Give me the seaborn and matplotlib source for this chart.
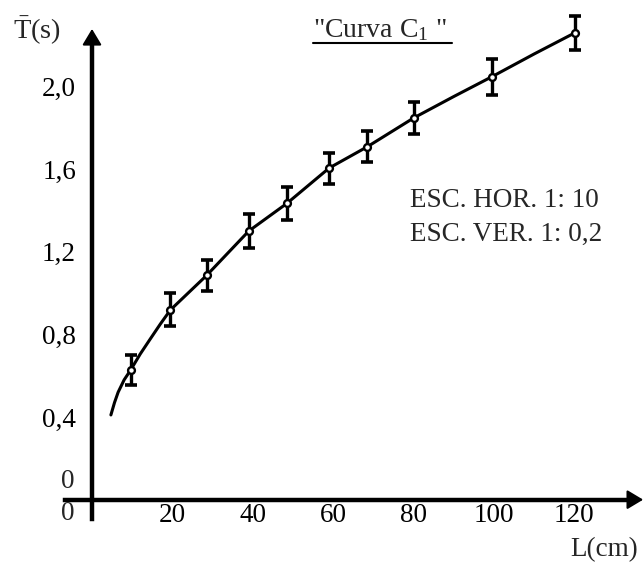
import numpy as np
import pandas as pd
import matplotlib
matplotlib.use("Agg")
import matplotlib.pyplot as plt
from matplotlib.lines import Line2D
import seaborn as sns

# Measured points (length in cm, mean period in s, half error bar)
L_pts = [9.6, 19.5, 28.5, 39, 48.5, 59, 68.5, 80, 99.5, 120.2]
T_pts = [0.627, 0.918, 1.085, 1.30, 1.434, 1.605, 1.708, 1.847, 2.047, 2.26]
T_err = [0.073, 0.08, 0.073, 0.084, 0.08, 0.075, 0.075, 0.077, 0.087, 0.082]

# Hand-drawn curve
L_curve = [4.7, 5.6, 6.5, 8.0, 9.6, 12.0, 14.4, 17.0, 19.5, 28.5, 39, 48.5, 59, 68.5, 80, 90, 99.5, 110, 120.2]
T_curve = [0.41, 0.47, 0.52, 0.58, 0.627, 0.705, 0.775, 0.85, 0.918, 1.085, 1.30, 1.434, 1.605, 1.708, 1.847, 1.951, 2.047, 2.157, 2.26]

x_ticks = [20, 40, 60, 80, 100, 120]
x_tick_labels = ["20", "40", "60", "80", "100", "120"]
y_ticks = [0.4, 0.8, 1.2, 1.6, 2.0]
y_tick_labels = ["0,4", "0,8", "1,2", "1,6", "2,0"]

sns.set_style("white")
plt.rcParams['font.family'] = ['Liberation Serif', 'DejaVu Serif']
plt.rcParams['mathtext.fontset'] = 'custom'
plt.rcParams['mathtext.rm'] = 'Liberation Serif'
plt.rcParams['mathtext.it'] = 'Liberation Serif:italic'

W, H = 644, 566
fig = plt.figure(figsize=(W / 100, H / 100), dpi=100)
ax = fig.add_axes([0, 0, 1, 1])
ax.set_xlim(-22.886, 137.31)
ax.set_ylim(-0.321, 2.418)


def px(x, y):
    return x / W, 1 - y / H


# axes as arrows
for s in ['top', 'right']:
    ax.spines[s].set_visible(False)
ax.spines['left'].set_position(('data', 0))
ax.spines['bottom'].set_position(('data', 0))
ax.spines['left'].set_bounds(-0.095, 2.2)
ax.spines['bottom'].set_bounds(-6.7, 134)
for s in ['left', 'bottom']:
    ax.spines[s].set_linewidth(3.2)
    ax.spines[s].set_color('black')

arrow = dict(arrowstyle="-|>,head_length=0.7,head_width=0.42", color='black',
             lw=1.5, mutation_scale=14, shrinkA=0, shrinkB=0)
ax.annotate("", xy=(0, 2.278), xytext=(0, 2.15), arrowprops=arrow)
ax.annotate("", xy=(137.1, 0), xytext=(132, 0), arrowprops=arrow)

fs = 19.5
ax.set_xticks(x_ticks)
ax.set_xticklabels(x_tick_labels)
ax.set_yticks(y_ticks)
ax.set_yticklabels(y_tick_labels)
ax.tick_params(axis='y', direction='in', length=5, width=2.2, pad=11.5,
               labelsize=fs, colors='black')
ax.tick_params(axis='x', direction='in', length=10, width=2.8, pad=2.5,
               labelsize=fs, colors='black')

# curve, error bars, points
curve = pd.DataFrame({'L': L_curve, 'T': T_curve})
sns.lineplot(data=curve, x='L', y='T', color='black', lw=2.2, ax=ax,
             sort=False, zorder=2)
ax.errorbar(L_pts, T_pts, yerr=T_err, fmt='none', ecolor='black',
            elinewidth=2.4, capsize=4.5, capthick=2.6, zorder=3)
pts = pd.DataFrame({'L': L_pts, 'T': T_pts})
sns.scatterplot(data=pts, x='L', y='T', marker='o', s=24, color='white',
                edgecolor='black', linewidth=1.7, ax=ax, zorder=4)
ax.set_xlabel("")
ax.set_ylabel("")

# texts
fig.text(*px(67.5, 481), "0", fontsize=fs, ha='center', va='center')
fig.text(*px(67.5, 513), "0", fontsize=fs, ha='center', va='center')
fig.text(*px(13, 31), r"$\bar{\mathrm{T}}$(s)", fontsize=20.5, ha='left', va='center')
fig.text(*px(570, 550), "L(cm)", fontsize=fs, ha='left', va='center')
fig.text(*px(313, 30), '"Curva C$_\\mathrm{1}$ "', fontsize=20, ha='left', va='center')
fig.add_artist(Line2D([313 / W, 452 / W], [1 - 43 / H, 1 - 43 / H],
                      transform=fig.transFigure, color='black', lw=1.5))
fig.text(*px(410, 200), "ESC. HOR. 1: 10", fontsize=fs, ha='left', va='center')
fig.text(*px(410, 234), "ESC. VER. 1: 0,2", fontsize=fs, ha='left', va='center')

fig.savefig("out.png", dpi=100)
plt.close(fig)
